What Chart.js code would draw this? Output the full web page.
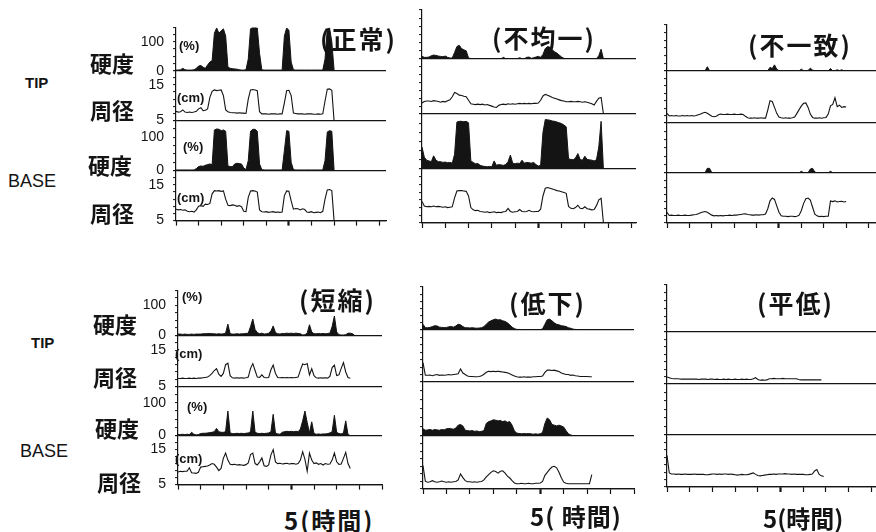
<!DOCTYPE html>
<html>
<head>
<meta charset="utf-8">
<script src="https://cdn.jsdelivr.net/npm/chart.js@4.4.1/dist/chart.umd.min.js"></script>
<style>
  body { margin: 0; background: #fff; width: 876px; height: 532px; overflow: hidden; position: relative;
         font-family: "Liberation Sans", Arial, sans-serif; color: #141414; }
  canvas { position: absolute; }
  .t { position: absolute; white-space: nowrap; line-height: 1; transform: translateY(-50%); }
  .jp { font-family: "Noto Sans CJK JP", sans-serif; font-weight: 700; }
</style>
</head>
<body>
<script>
// samples are 0.1 h apart
const STEP = 0.1;

// (正常)
const normalTipHard = [2,2,3,8,3,2,2,2,3,8, 16,18,12,8,20,30,35,130,148,130, 138,145,120,12,8,7,6,5,3,2,
  2,3,40,145,150,150,148,60,3,2, 2,2,2,2,2,2,2,2,120,148, 140,30,3,2,2,2,2,2,2,2, 2,2,2,2,2,2,40,145,148,100, 2];
const normalTipCirc = [7.6,7.4,7.5,8.0,7.4,7.3,7.4,7.3,7.4,7.6, 8.3,8.6,7.8,7.9,8.3,11.5,13.2,13.6,13.4,13.5,
  13.6,12.0,8.0,7.5,7.3,7.2,7.2,7.1,7.2,7.1, 7.1,7.0,11.0,13.6,13.7,13.6,13.4,7.5,6.9,6.9,
  6.9,6.8,6.9,6.9,6.9,6.8,6.9,6.9,10.0,13.4, 13.5,12.0,7.1,7.0,6.9,6.9,6.9,6.8,6.9,6.9,
  6.9,6.8,6.8,6.9,6.8,6.9,10.5,13.8,13.9,13.5, 5];
const normalBaseHard = [2,2,2,2,2,2,2,2,2,6, 12,14,13,16,18,20,18,122,125,124, 120,122,118,14,12,12,20,22,21,20,
  8,3,30,118,124,124,118,20,3,2, 2,2,2,2,2,2,2,2,60,120, 118,25,3,2,2,2,2,2,2,2, 2,2,2,2,2,2,30,116,120,118, 2];
const normalBaseCirc = [8.2,8.0,8.1,7.9,8.0,7.6,7.5,7.6,7.4,8.0, 9.0,9.2,9.0,9.6,9.5,9.8,12.5,13.4,13.3,13.4,
  13.2,13.3,11.0,9.3,9.2,9.4,9.3,9.0,9.2,8.9, 7.6,7.5,11.5,13.3,13.4,13.3,13.0,8.0,7.5,7.4,
  7.5,7.3,7.4,7.5,7.3,7.4,7.3,7.4,12.0,13.3, 13.2,10.5,8.2,8.4,8.3,8.0,8.3,8.1,7.4,7.3,
  7.5,7.2,7.3,7.4,7.2,7.6,11.0,13.6,13.7,13.4, 5];

// (不均一)
const unevenTipHard = [8,5,5,6,10,12,11,9,8,7, 9,5,3,3,20,38,42,32,28,25, 3,1,1,1,1,1,1,1,1,1,
  1,1,1,1,1,5,1,1,1,1, 1,1,4,1,1,5,6,2,4,6, 8,5,14,32,38,36,28,22,18,12, 6,2,1,1,1,1,1,1,1,1,
  1,1,1,1,1,1,10,30,0];
const unevenTipCirc = [7.8,8.2,8.3,8.3,8.2,8.4,8.3,8.2,8.0,8.2, 8.1,8.4,8.6,9.4,10.5,10.2,9.8,9.7,9.5,9.4,
  8.5,7.6,7.5,7.4,7.5,7.4,7.5,7.3,7.4,7.2, 7.0,6.8,6.7,7.2,7.4,7.5,7.4,7.6,7.5,7.6,
  7.5,7.6,7.7,7.6,7.7,7.6,7.7,7.6,7.7,7.7, 7.8,8.5,9.6,10.0,9.8,9.5,9.2,9.0,8.8,8.6,
  8.4,8.3,8.1,8.1,8.2,8.1,8.1,8.2,8.1,8.0, 8.1,8.0,7.8,7.6,7.3,8.2,9.0,9.2,5];
const unevenBaseHard = [60,32,24,22,20,36,24,20,20,18, 19,17,18,16,40,128,130,130,129,130,
  126,22,18,14,15,10,8,7,6,7, 6,22,10,12,11,10,12,20,38,16, 14,16,15,24,16,18,17,16,18,12,
  8,10,100,135,134,133,131,130,128,126, 124,120,115,28,26,25,30,42,26,24, 35,26,25,24,22,25,60,130,0];
const unevenBaseCirc = [10.6,9.4,9.2,9.3,9.2,9.4,9.2,9.3,9.2,9.1, 9.2,9.0,9.1,9.2,11.5,13.3,13.4,13.4,13.3,13.2,
  12.0,9.0,8.4,8.2,8.3,8.0,7.9,7.8,7.9,7.7, 7.8,7.9,7.7,7.8,7.7,7.9,8.0,8.8,8.0,7.8,
  7.9,8.0,8.5,8.0,7.9,8.0,8.3,8.0,7.9,8.0, 8.0,8.6,12.0,14.0,14.2,14.0,13.8,13.6,13.4,13.3,
  13.1,12.9,12.7,9.3,8.8,8.7,9.0,9.6,8.8,8.7, 9.2,8.7,8.6,8.4,8.5,9.5,11.0,11.4,5];

// (不一致)
const mismatchTipHard = [1,1,1,1,1,1,1,1,1,1, 1,1,1,1,1,1,1,1,14,1, 1,1,1,1,1,1,1,1,1,1,
  1,1,1,1,1,1,1,1,1,1, 1,1,1,1,1,1,12,8,20,6, 1,1,1,1,1,1,1,1,1,1, 6,1,1,2,9,3,1,1,1,1,
  1,1,1,8,1,1,4,1,4,1, 0];
const mismatchTipCirc = [7.6,6.9,7.0,6.9,7.0,6.9,6.9,7.0,6.9,7.0, 6.9,7.0,6.9,7.0,7.2,7.4,7.7,7.9,7.6,7.2,
  6.8,6.7,6.8,7.2,7.4,7.3,7.3,7.4,7.3,7.3, 7.4,7.3,7.3,7.4,7.3,6.8,6.4,6.3,6.3,6.4,
  6.3,6.3,6.4,6.3,6.3,8.5,11.0,10.8,9.2,7.6, 6.6,6.4,6.3,6.4,6.3,6.3,6.4,6.6,7.6,8.6,
  9.6,10.3,10.4,9.2,7.4,6.5,6.3,6.3,6.4,6.3, 6.4,6.5,7.4,9.6,10.0,11.8,9.4,9.8,9.2,9.4, 9.3];
const mismatchBaseHard = [1,1,1,1,1,1,1,1,1,1, 1,1,1,1,1,1,1,1,14,14, 1,1,1,1,1,1,1,1,1,1,
  1,1,1,1,1,1,1,1,1,1, 1,1,1,1,1,1,1,1,1,1, 1,1,1,1,1,1,1,1,1,1, 5,1,1,1,12,14,3,1,1,1,
  1,1,1,5,1,1,1,1,1,1, 0];
const mismatchBaseCirc = [8.0,7.1,7.2,7.1,7.1,7.2,7.1,7.1,7.2,7.1, 7.1,7.2,7.3,7.4,7.6,7.9,8.1,8.2,8.0,7.6,
  7.2,7.0,7.1,7.0,7.1,7.0,7.1,7.1,7.2,7.1, 7.2,7.2,7.3,7.4,7.5,7.6,7.4,7.3,7.2,7.2,
  7.3,7.2,7.3,7.3,7.5,9.0,11.2,12.0,11.6,9.8, 8.0,7.0,6.9,6.9,6.8,6.9,6.9,6.8,6.9,7.2,
  8.5,10.5,11.8,12.0,11.4,9.4,7.5,7.0,6.8,6.9, 6.8,6.9,6.9,11.2,11.0,11.2,10.9,11.0,11.1,10.9, 11.0];

// (短縮)
const shortTipHard = [5,5,4,5,4,4,5,4,5,5, 5,6,6,7,7,6,6,5,6,5, 6,8,38,6,5,5,6,5,6,6,
  7,8,30,55,20,10,6,8,5,6, 8,15,32,10,6,5,7,7,8,7, 8,7,8,7,6,2,3,8,36,12, 6,6,7,6,7,6,7,8,30,65,
  12,3,2,2,3,8,8,6,0];
const shortTipCirc = [7.2,7.2,7.3,7.2,7.2,7.3,7.2,7.3,7.2,7.3, 7.3,7.4,7.5,7.6,8.0,8.6,9.4,9.9,8.4,7.8,
  8.6,11.0,11.4,8.0,7.4,7.3,7.4,7.3,7.4,7.3, 7.4,7.6,10.0,11.3,9.4,7.6,7.5,8.2,7.5,7.4,
  7.5,9.6,10.9,8.6,7.5,7.4,7.5,7.4,7.5,7.4, 7.5,7.4,7.5,7.6,9.5,11.2,11.0,11.3,8.2,9.9,
  8.0,7.4,7.3,7.4,7.3,7.4,7.3,7.8,10.2,10.9, 8.0,8.2,10.0,11.6,9.0,7.5,7.3];
const shortBaseHard = [3,3,4,3,4,3,10,4,2,3, 6,7,7,8,9,10,12,22,12,10, 10,12,75,8,6,6,7,6,7,6,
  7,8,12,75,10,7,6,7,6,7, 8,12,65,8,5,4,10,12,13,12, 13,12,13,12,20,45,75,40,8,42, 6,4,5,4,5,5,6,8,12,62,
  10,6,5,8,45,3,0];
const shortBaseCirc = [8.6,8.8,8.7,8.8,8.8,9.8,8.4,8.3,8.2,8.5, 10.0,10.1,10.2,10.3,10.6,11.0,10.8,10.0,9.0,9.6,
  12.5,14.0,12.0,10.8,10.7,10.8,10.6,10.7,10.6,10.5, 10.7,11.2,13.6,14.0,11.0,10.6,11.5,12.6,10.4,10.2,
  10.6,13.5,15.0,11.5,11.0,11.1,10.9,11.0,11.1,10.9, 11.0,11.0,10.8,11.0,12.0,14.4,12.2,8.8,14.0,12.0,
  11.0,11.2,10.8,11.0,10.6,11.0,10.8,10.9,12.0,14.0, 11.5,10.8,10.9,12.5,14.2,11.0,9.6];

// (低下)
const lowTipHard = [20,8,8,9,12,15,14,10,9,8, 9,11,12,10,14,20,18,12,8,8, 7,8,7,6,7,8,12,20,28,32,
  36,38,35,36,32,30,25,18,10,5, 2,2,1,2,1,1,2,1,1,2, 1,4,20,36,38,32,25,20,18,15, 14,12,8,6,3,2,1,1,0,0, 0];
const lowTipCirc = [10.2,6.8,6.8,6.9,6.7,6.9,7.0,6.8,6.9,6.8, 6.9,7.0,6.9,7.0,7.1,7.2,8.5,7.4,7.0,6.6,
  6.5,6.5,6.4,6.4,6.5,6.7,7.1,7.6,7.9,7.8, 7.9,7.8,7.9,7.8,7.7,7.6,7.5,7.2,6.9,6.6,
  6.4,6.3,6.3,6.4,6.3,6.3,6.3,6.4,6.4,6.5, 6.5,6.6,7.6,8.2,8.2,8.1,8.2,8.0,7.8,7.4,
  7.2,7.0,7.0,6.8,6.9,6.7,6.6,6.5,6.5,6.5, 6.5,6.4,6.4];
const lowBaseHard = [20,16,17,18,16,18,17,16,18,17, 20,21,20,19,22,30,32,28,16,15, 14,15,13,14,12,13,15,35,40,42,
  45,44,42,43,40,42,38,40,30,14, 8,7,6,7,6,7,6,5,6,5, 6,10,35,50,45,32,30,28,30,28, 25,15,6,3,1,0,0,0,0,0, 0];
const lowBaseCirc = [11.2,7.0,6.8,6.9,7.2,6.9,6.8,6.9,7.1,6.9, 6.8,6.9,6.8,6.9,7.0,7.4,9.0,8.0,7.2,6.9,
  6.9,6.8,6.9,6.8,6.9,7.0,7.4,8.2,8.8,9.4, 9.8,9.6,9.2,9.7,9.8,9.2,8.4,7.9,7.2,6.6,
  6.4,6.4,6.5,6.4,6.4,6.5,6.4,6.4,6.5,6.5, 6.6,7.0,8.6,9.4,10.2,10.8,11.0,10.6,9.4,8.0,
  6.8,6.5,6.4,6.4,6.4,6.4,6.4,6.4,6.4,6.4, 6.4,6.4,8.8];

// (平低)
const flatTipHard = [0,0,0,0,0,0,0,0,0,0, 0,0,0,0,0,0,0,0,0,0, 0,0,0,0,0,0,0,0,0,0, 0,0,0,0,0,0,0,0,0,0,
  0,0,0,0,0,0,0,0,0,0, 0,0,0,0,0,0,0,0,0,0, 0,0,0,0,0,0,0,0,0];
const flatTipCirc = [6.9,6.7,6.5,6.4,6.4,6.4,6.3,6.3,6.3,6.3, 6.3,6.3,6.3,6.3,6.2,6.3,6.3,6.3,6.2,6.3,
  6.3,6.2,6.3,6.2,6.2,6.3,6.2,6.3,6.2,6.2, 6.3,6.2,6.2,6.3,6.2,6.3,6.2,6.2,6.4,6.7,
  6.2,6.0,6.1,6.0,6.1,6.4,6.4,6.5,6.4,6.4, 6.4,6.5,6.4,6.4,6.4,6.4,6.4,6.4,6.2,6.1,
  6.1,6.1,6.1,6.1,6.1,6.1,6.1,6.1,6.1];
const flatBaseHard = [0,0,0,0,0,0,0,0,0,0, 0,0,0,0,0,0,0,0,0,0, 0,0,0,0,0,0,0,0,0,0, 0,0,0,0,0,0,0,0,0,0,
  0,0,0,0,0,0,0,0,0,0, 0,0,0,0,0,0,0,0,0,0, 0,0,0,0,0,0,0,0,0];
const flatBaseCirc = [13.5,8.8,8.5,8.5,8.4,8.5,8.4,8.4,8.5,8.4, 8.4,8.4,8.5,8.4,8.4,8.4,8.4,8.3,8.3,8.4,
  8.5,8.5,8.4,8.5,8.4,8.5,8.5,8.4,8.5,8.4, 8.3,8.2,8.3,8.4,8.3,8.3,8.4,8.6,8.8,8.4,
  8.1,8.0,8.1,8.2,8.3,8.4,8.4,8.5,8.4,8.5, 8.5,8.5,8.6,8.5,8.5,8.4,8.5,8.4,8.4,8.4,
  8.4,8.3,8.3,8.4,8.5,9.3,9.7,8.4,8.0,7.8];

const INK = '#141414';
const PAD_T = 12, PAD_R = 12, PAD_B = 10, X_TICK = 5;

// panel frames: y-axis x, chart top, strip heights, hours shown, px per hour
const panels = [
  { title: '(正常)', axisX: 176, top: 22, heights: [45, 52, 52, 52], xmax: 9.3, hourPx: 22.6, labels: true,
    series: [normalTipHard, normalTipCirc, normalBaseHard, normalBaseCirc] },
  { title: '(不均一)', axisX: 422, top: 10, heights: [49, 55, 55, 54], xmax: 9.2, hourPx: 23.3,
    series: [unevenTipHard, unevenTipCirc, unevenBaseHard, unevenBaseCirc] },
  { title: '(不一致)', axisX: 667, top: 25, heights: [46, 52, 50, 50], xmax: 9.6, hourPx: 22.4,
    series: [mismatchTipHard, mismatchTipCirc, mismatchBaseHard, mismatchBaseCirc] },
  { title: '(短縮)', axisX: 178, top: 285, heights: [47, 53, 51, 51], xmax: 9.0, hourPx: 22.7, labels: true,
    series: [shortTipHard, shortTipCirc, shortBaseHard, shortBaseCirc] },
  { title: '(低下)', axisX: 423, top: 287, heights: [43, 52, 54, 53], xmax: 9.0, hourPx: 23.4,
    series: [lowTipHard, lowTipCirc, lowBaseHard, lowBaseCirc] },
  { title: '(平低)', axisX: 667, top: 285, heights: [47, 52, 51, 52], xmax: 9.6, hourPx: 22.7,
    series: [flatTipHard, flatTipCirc, flatBaseHard, flatBaseCirc] },
];

const stripIds = ['th', 'tc', 'bh', 'bc'];

function yScale(idx, p, W) {
  const hard = idx % 2 === 0;
  const lo = hard ? 0 : 5;
  return {
    type: 'linear', position: 'left', stack: 'strips', stackWeight: p.heights[idx], weight: 4 - idx,
    min: lo, max: hard ? 150 : 19,
    border: { display: true, color: INK, width: 1.2 },
    grid: {
      drawOnChartArea: true, lineWidth: 1.2, tickLength: 3, tickColor: INK, tickWidth: 1,
      color: c => (c.tick && c.tick.value === lo) ? INK : 'rgba(0,0,0,0)'
    },
    ticks: {
      display: !!p.labels, autoSkip: false, includeBounds: false, stepSize: hard ? 25 : 2, padding: 9,
      color: INK, font: { family: 'Liberation Sans', size: 14 },
      callback: v => (hard ? (v === 0 || v === 100) : (v === 5 || v === 15)) ? String(v) : ''
    },
    afterFit: sc => { sc.width = W; }
  };
}

function makePanel(p) {
  const W = p.labels ? 44 : 6;
  const areaH = p.heights.reduce((a, b) => a + b, 0);
  const cv = document.createElement('canvas');
  cv.width = Math.round(W + p.xmax * p.hourPx + PAD_R);
  cv.height = PAD_T + areaH + X_TICK + PAD_B;
  cv.style.left = (p.axisX - W) + 'px';
  cv.style.top = (p.top - PAD_T) + 'px';
  document.body.appendChild(cv);

  const scales = {
    x: {
      type: 'linear', position: 'bottom', min: 0, max: p.xmax,
      border: { color: INK, width: 1.2 },
      grid: { drawOnChartArea: false, tickLength: X_TICK, tickColor: INK,
              tickWidth: c => (c.tick && c.tick.value === 5) ? 2.2 : 1.2 },
      ticks: { display: false, stepSize: 1, autoSkip: false, includeBounds: false }
    }
  };
  stripIds.forEach((id, i) => { scales[id] = yScale(i, p, W); });

  const datasets = p.series.map((vals, i) => {
    const hard = i % 2 === 0;
    return {
      data: vals.map((v, k) => ({ x: Math.round(k * STEP * 10) / 10, y: v })),
      yAxisID: stripIds[i],
      borderColor: INK,
      backgroundColor: INK,
      borderWidth: hard ? 1 : 1.1,
      fill: hard ? 'origin' : false,
      pointRadius: 0,
      tension: 0
    };
  });

  new Chart(cv.getContext('2d'), {
    type: 'line',
    data: { datasets },
    options: {
      responsive: false, animation: false, devicePixelRatio: 1, events: [],
      layout: { padding: { top: PAD_T, right: PAD_R, bottom: PAD_B, left: 0 } },
      plugins: { legend: { display: false }, tooltip: { enabled: false } },
      scales
    }
  });
}

panels.forEach(makePanel);

function addText(txt, x, cy, size, cls, extra) {
  const d = document.createElement('div');
  d.className = 't' + (cls ? ' ' + cls : '');
  d.textContent = txt;
  d.style.left = x + 'px';
  d.style.top = cy + 'px';
  d.style.fontSize = size + 'px';
  if (extra) Object.assign(d.style, extra);
  document.body.appendChild(d);
}

// panel titles
const titleSpots = [[320, 38], [492, 37], [748, 44], [299, 299], [509, 302], [757, 302]];
panels.forEach((p, i) => addText(p.title, titleSpots[i][0], titleSpots[i][1], 25, 'jp', { letterSpacing: '2px' }));

// row labels
addText('TIP', 25, 82, 15, '', { fontWeight: 'bold' });
addText('BASE', 8, 181, 18);
addText('TIP', 31, 342, 15, '', { fontWeight: 'bold' });
addText('BASE', 20, 451, 18);
[[90, 62], [90, 109], [88, 164], [90, 212], [93, 323], [93, 376], [95, 427], [97, 481]]
  .forEach((s, i) => addText(i % 2 === 0 ? '硬度' : '周径', s[0], s[1], 22, 'jp'));

// unit marks inside the first column
[[179, 45, '(%)'], [177, 97, '(cm)'], [183, 146, '(%)'], [177, 197, '(cm)'],
 [182, 296, '(%)'], [175, 353, '(cm)'], [187, 406, '(%)'], [175, 458, '(cm)']]
  .forEach(s => addText(s[2], s[0], s[1], 13, '', { fontWeight: 'bold' }));

// time axis labels
addText('5(時間)', 284, 520, 24, 'jp', { letterSpacing: '2px' });
addText('5( 時間)', 530, 516, 24, 'jp', { letterSpacing: '1px' });
addText('5(時間)', 763, 518, 24, 'jp');
</script>
</body>
</html>
